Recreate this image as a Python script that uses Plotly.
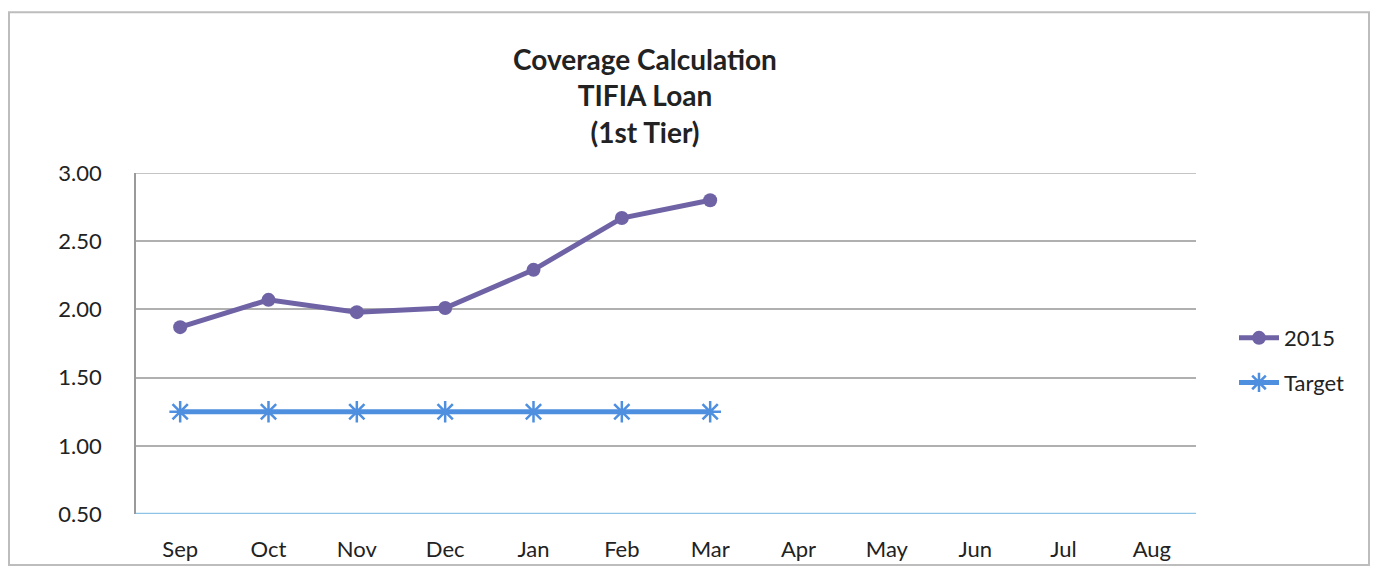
import plotly.graph_objects as go

months = ["Sep", "Oct", "Nov", "Dec", "Jan", "Feb", "Mar", "Apr", "May", "Jun", "Jul", "Aug"]
values_2015 = [1.87, 2.07, 1.98, 2.01, 2.29, 2.67, 2.80]
target = [1.25, 1.25, 1.25, 1.25, 1.25, 1.25, 1.25]
ytick_vals = [0.5, 1.0, 1.5, 2.0, 2.5, 3.0]
ytick_text = ["0.50", "1.00", "1.50", "2.00", "2.50", "3.00"]

FONT = "Lato, Open Sans, sans-serif"

fig = go.Figure()
fig.add_trace(go.Scatter(
    x=months[:len(values_2015)], y=values_2015, name="2015",
    mode="lines+markers", legendgroup="a",
    line=dict(color="#6f63a6", width=5),
    marker=dict(symbol="circle", size=14, color="#6f63a6"),
))
fig.add_trace(go.Scatter(
    x=months[:len(target)], y=target, name="Target",
    mode="lines+markers", legendgroup="b",
    line=dict(color="#4f8fdf", width=5),
    marker=dict(symbol="asterisk-open", size=18, line=dict(color="#4f8fdf", width=2.5)),
))

# page body has an 8px margin; figure sized to fit the window
W, H = 1362, 566
L, T = 128, 165
R = W - 1188
B = H - 513
pw, ph = W - L - R, H - T - B

fig.update_layout(
    width=W, height=H,
    margin=dict(l=L, r=R, t=T, b=B),
    paper_bgcolor="white", plot_bgcolor="white",
    font=dict(family=FONT, size=22, color="#222222"),
    title=dict(
        text="<b>Coverage Calculation</b><br><b>TIFIA Loan</b><br><b>(1st Tier)</b>",
        x=637 / W, xanchor="center", y=1 - 62 / H, yanchor="top",
        font=dict(family=FONT, size=28, color="#222222"),
    ),
    xaxis=dict(
        categoryorder="array", categoryarray=months,
        tickmode="array", tickvals=months, ticktext=months,
        range=[-0.5, 11.5], showgrid=False, zeroline=False,
        showline=False, ticks="", tickfont=dict(size=22),
        ticklabelstandoff=20,
    ),
    yaxis=dict(
        range=[0.5, 3.0], tickvals=ytick_vals, ticktext=ytick_text,
        showgrid=True, gridcolor="#b0b0b0", gridwidth=1.5,
        zeroline=False, showline=True, linecolor="#9a9a9a", linewidth=1.5,
        ticks="", tickfont=dict(size=22), ticklabelstandoff=28,
    ),
    legend=dict(
        x=(1226 - L) / pw, xanchor="left", y=(513 - 312) / ph, yanchor="top",
        font=dict(size=22), tracegroupgap=13, itemwidth=40,
        bgcolor="rgba(0,0,0,0)",
    ),
    showlegend=True,
)

# top gridline at 3.00
fig.add_shape(type="line", xref="paper", yref="y", x0=0, x1=1, y0=3.0, y1=3.0,
              line=dict(color="#b0b0b0", width=1.5))
# bottom axis line (light blue)
fig.add_shape(type="line", xref="paper", yref="y", x0=0, x1=1, y0=0.5, y1=0.5,
              line=dict(color="#8ec5e6", width=2.5))
# outer chart border
fig.add_shape(type="rect", xref="paper", yref="paper",
              x0=(1 - L) / pw, x1=(W - 1 - L) / pw,
              y0=-(H - 1 - (H - B)) / ph, y1=1 + (T - 1) / ph,
              line=dict(color="#bdbdbd", width=2), fillcolor="rgba(0,0,0,0)", layer="below")

fig.write_html("out.html")
